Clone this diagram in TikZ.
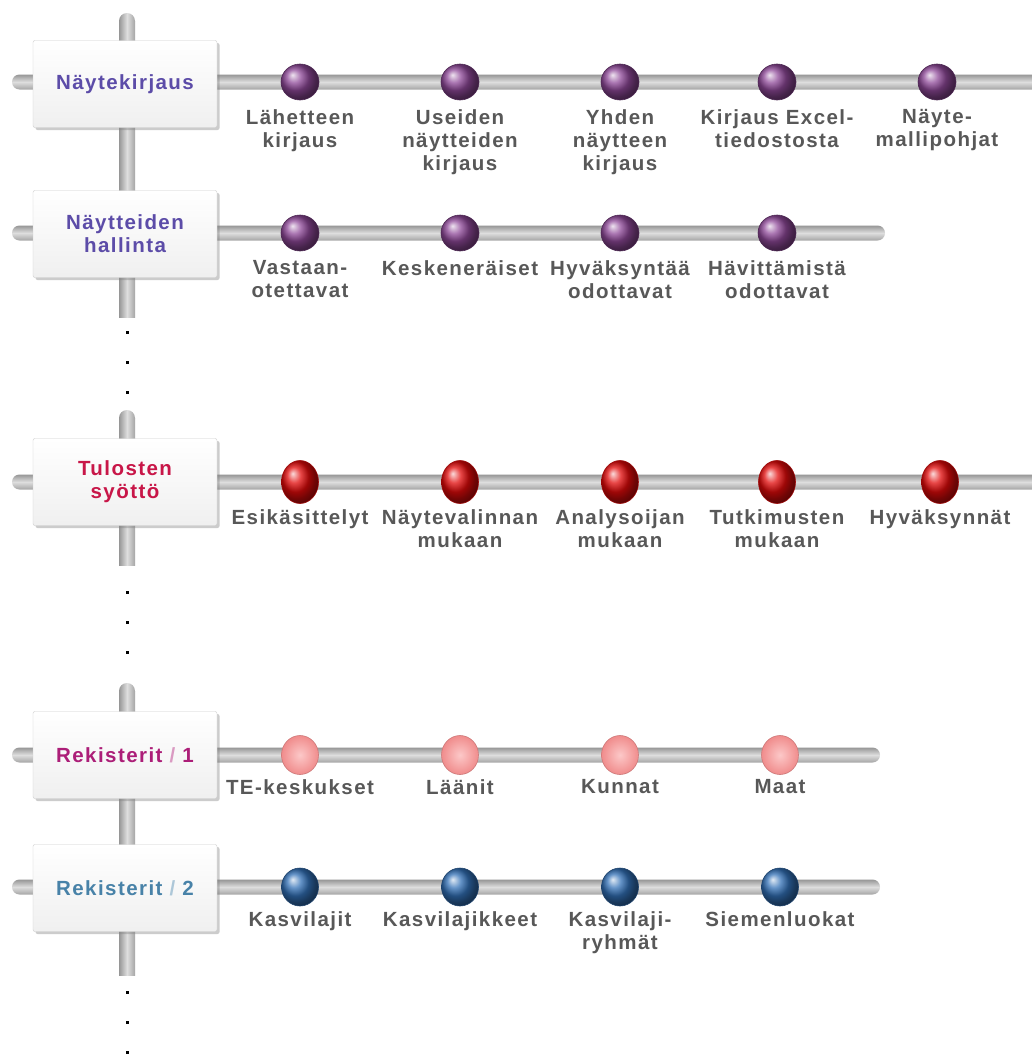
\documentclass[tikz,border=0pt]{standalone}
\usepackage{fontspec}
\setmainfont{Liberation Sans}
\newfontfamily\lblfont[LetterSpace=7]{Liberation Sans}
\usetikzlibrary{shapes.geometric,shadows}
\definecolor{barEdge}{RGB}{150,150,150}
\definecolor{barMid}{RGB}{222,222,222}
\definecolor{barLow}{RGB}{165,165,165}
\definecolor{ballPurple}{RGB}{142,72,152}
\definecolor{ballRed}{RGB}{225,10,10}
\definecolor{pinkIn}{RGB}{252,200,200}
\definecolor{pinkOut}{RGB}{240,140,140}
\definecolor{pinkRim}{RGB}{205,120,120}
\definecolor{ballBlue}{RGB}{50,112,182}
\definecolor{titleViolet}{RGB}{92,76,168}
\definecolor{titleCrimson}{RGB}{200,22,72}
\definecolor{titleMagenta}{RGB}{172,30,120}
\definecolor{titleSteel}{RGB}{72,130,168}
\definecolor{lblGray}{RGB}{88,88,88}
\begin{document}
\begin{tikzpicture}[x=1pt,y=-1pt,
  hbar/.style={top color=barEdge, bottom color=barLow, middle color=barMid, draw=none, rounded corners=7.5pt},
  vbar/.style={left color=barEdge, right color=barLow, middle color=barMid, draw=none},
  titlebox/.style={draw=gray!40, rounded corners=2pt, top color=white, bottom color=gray!12,
    minimum width=184pt, minimum height=87pt, inner sep=0pt,
    drop shadow={shadow xshift=2.5pt, shadow yshift=-2.5pt, opacity=0.4},
    font=\lblfont\bfseries\fontsize{20.5}{23}\selectfont, align=center},
  ballbase/.style={ellipse, inner sep=0pt, minimum width=38pt, minimum height=36pt, line width=0.6pt},
  pball/.style={ballbase, ball color=ballPurple, draw=ballPurple!55!black},
  rball/.style={ballbase, minimum width=37pt, minimum height=43pt, ball color=ballRed, draw=ballRed!70!black},
  kball/.style={ballbase, minimum width=37pt, minimum height=39pt, inner color=pinkIn, outer color=pinkOut, draw=pinkRim},
  bball/.style={ballbase, minimum width=37pt, minimum height=38pt, ball color=ballBlue, draw=ballBlue!60!black},
  item/.style={anchor=north, inner sep=0pt, align=center, text=lblGray,
    font=\lblfont\bfseries\fontsize{20.5}{23}\selectfont},
  dot/.style={fill=black, minimum size=3pt, inner sep=0pt, draw=none}
]
\useasboundingbox (0,0) rectangle (1031,1055);
\fill[white] (0,0) rectangle (1031,1055);

% vertical pole segments
\shade[vbar] (119,21) rectangle (135,317);
\shade[vbar] (127,21) circle (8);
\shade[vbar] (119,418) rectangle (135,565);
\shade[vbar] (127,418) circle (8);
\shade[vbar] (119,691) rectangle (135,975);
\shade[vbar] (127,691) circle (8);

% dots
\foreach \y [count=\i] in {332,362,392,592,622,652,992,1022,1052}
  \node[dot] (dot\i) at (127,\y) {};

% horizontal bars
\shade[hbar] (12,74.5) rectangle (1050,89.5);
\shade[hbar] (12,225.5) rectangle (885,240.5);
\shade[hbar] (12,474.5) rectangle (1050,489.5);
\shade[hbar] (12,747.5) rectangle (880,762.5);
\shade[hbar] (12,879.5) rectangle (880,894.5);

% title boxes
\node[titlebox, text=titleViolet] (b1) at (125,84) {Näytekirjaus};
\node[titlebox, text=titleViolet] (b2) at (125,234) {Näytteiden\\hallinta};
\node[titlebox, text=titleCrimson] (b3) at (125,482) {Tulosten\\syöttö};
\node[titlebox, text=titleMagenta] (b4) at (125,755) {Rekisterit {\color{titleMagenta!45}/} 1};
\node[titlebox, text=titleSteel] (b5) at (125,888) {Rekisterit {\color{titleSteel!45}/} 2};

% row 1
\foreach \x/\t [count=\i] in {300/{Lähetteen\\kirjaus},460/{Useiden\\näytteiden\\kirjaus},620/{Yhden\\näytteen\\kirjaus},777/{Kirjaus Excel-\\tiedostosta},937/{Näyte-\\mallipohjat}}{
  \node[pball] (p1\i) at (\x,82) {};
  \node[item] (t1\i) at (\x,109) {\t};
}
% row 2
\foreach \x/\t [count=\i] in {300/{Vastaan-\\otettavat},460/{Keskeneräiset},620/{Hyväksyntää\\odottavat},777/{Hävittämistä\\odottavat}}{
  \node[pball] (p2\i) at (\x,233) {};
  \node[item] (t2\i) at (\x,260) {\t};
}
% row 3
\foreach \x/\t [count=\i] in {300/{Esikäsittelyt},460/{Näytevalinnan\\mukaan},620/{Analysoijan\\mukaan},777/{Tutkimusten\\mukaan},940/{Hyväksynnät}}{
  \node[rball] (p3\i) at (\x,482) {};
  \node[item] (t3\i) at (\x,509) {\t};
}
% row 4
\foreach \x/\t [count=\i] in {300/{TE-keskukset},460/{Läänit},620/{Kunnat},780/{Maat}}{
  \node[kball] (p4\i) at (\x,755) {};
  \node[item] (t4\i) at (\x,779) {\t};
}
% row 5
\foreach \x/\t [count=\i] in {300/{Kasvilajit},460/{Kasvilajikkeet},620/{Kasvilaji-\\ryhmät},780/{Siemenluokat}}{
  \node[bball] (p5\i) at (\x,887) {};
  \node[item] (t5\i) at (\x,911) {\t};
}
\end{tikzpicture}
\end{document}
